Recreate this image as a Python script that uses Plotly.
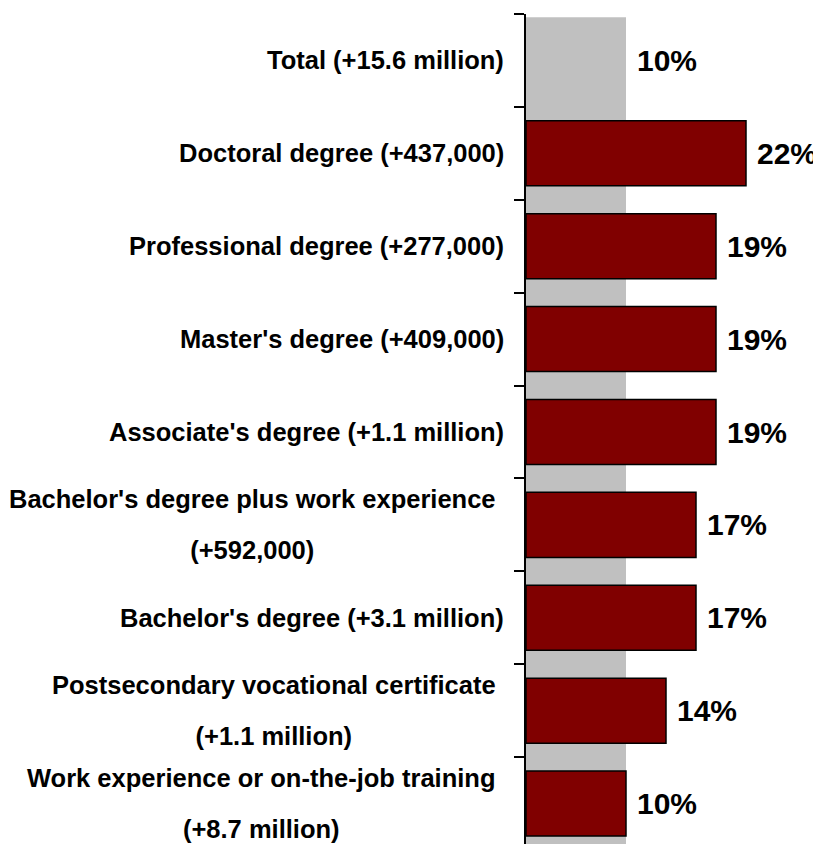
import plotly.graph_objects as go

categories = [
    "Total (+15.6 million)",
    "Doctoral degree (+437,000)",
    "Professional degree (+277,000)",
    "Master's degree (+409,000)",
    "Associate's degree (+1.1 million)",
    "Bachelor's degree plus work experience<br>(+592,000)",
    "Bachelor's degree (+3.1 million)",
    "Postsecondary vocational certificate<br>(+1.1 million)",
    "Work experience or on-the-job training<br>(+8.7 million)",
]
growth_pct = [10, 22, 19, 19, 19, 17, 17, 14, 10]
value_labels = ["10%", "22%", "19%", "19%", "19%", "17%", "17%", "14%", "10%"]

total_value = growth_pct[0]
positions = list(range(len(categories)))

LABEL_FAMILY = "Liberation Sans, Arial, sans-serif"
VALUE_FONT = dict(family="Liberation Sans, Arial", size=30, color="black")

fig = go.Figure()
fig.add_trace(go.Bar(
    x=growth_pct[1:],
    y=positions[1:],
    orientation="h",
    width=0.7,
    marker=dict(color="#800000", line=dict(color="black", width=1.5)),
    showlegend=False,
    hoverinfo="skip",
))

# Grey reference band for the total
fig.add_shape(type="rect", xref="x", yref="paper", x0=0, x1=total_value, y0=0, y1=0.996,
              fillcolor="#C0C0C0", line=dict(width=0), layer="below")

annotations = []
for i, (cat, v, lab) in enumerate(zip(categories, growth_pct, value_labels)):
    multi = "<br>" in cat
    lines = cat.split("<br>")
    txt = "<br>".join('<span style="font-size:25.5px"><b>' + ln + "</b></span>" for ln in lines)
    annotations.append(dict(
        x=0, y=i, xref="x", yref="y", text=txt, showarrow=False,
        xanchor="right", yanchor="middle", align="center", xshift=-28 if multi else -20,
        font=dict(family=LABEL_FAMILY, size=39, color="black"),
    ))
    annotations.append(dict(
        x=v, y=i, xref="x", yref="y", text="<b>" + lab + "</b>", showarrow=False,
        xanchor="left", yanchor="middle", xshift=9,
        font=VALUE_FONT,
    ))

fig.update_layout(
    width=813, height=836,
    margin=dict(l=518, r=5, t=6, b=0),
    plot_bgcolor="white", paper_bgcolor="white",
    annotations=annotations,
)
fig.update_xaxes(range=[0, 29], showgrid=False, zeroline=False, showticklabels=False,
                 showline=False, ticks="")
fig.update_yaxes(range=[len(categories) - 0.5 - 6 / 93, -0.5],
                 tickvals=[p - 0.5 for p in positions], showticklabels=False,
                 ticks="outside", ticklen=10, tickwidth=1.5, tickcolor="black",
                 showline=True, linewidth=1.5, linecolor="black",
                 showgrid=False, zeroline=False)

fig.write_html("out.html")
